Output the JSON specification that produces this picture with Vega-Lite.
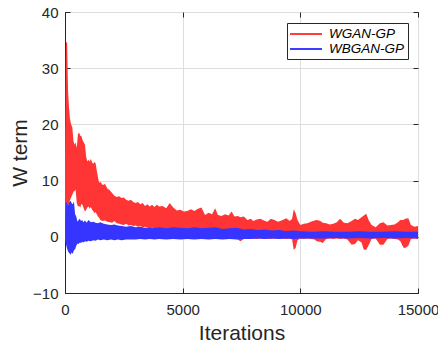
{
  "$schema": "https://vega.github.io/schema/vega-lite/v6.json",
  "width": 353,
  "height": 281,
  "autosize": "none",
  "padding": {"left": 65, "top": 12, "right": 20, "bottom": 50},
  "background": "white",
  "config": {
    "font": "Liberation Sans",
    "view": {"stroke": "#262626", "strokeWidth": 1},
    "axis": {
      "domainColor": "#262626",
      "tickColor": "#262626",
      "labelColor": "#262626",
      "titleColor": "#262626",
      "labelFontSize": 15,
      "titleFontSize": 21,
      "titleFontWeight": "normal",
      "gridColor": "#dedede",
      "gridWidth": 1,
      "tickSize": -5
    }
  },
  "resolve": {"axis": {"x": "independent", "y": "independent"}},
  "datasets": {
    "red": [
      {"it": 0, "lo": 1, "hi": 14},
      {"it": 40, "lo": 3, "hi": 34.7},
      {"it": 90, "lo": 4, "hi": 34.5},
      {"it": 130, "lo": 5, "hi": 26},
      {"it": 170, "lo": 6, "hi": 23},
      {"it": 210, "lo": 6.5, "hi": 21},
      {"it": 260, "lo": 7, "hi": 20},
      {"it": 310, "lo": 7.5, "hi": 19.5},
      {"it": 360, "lo": 8, "hi": 17},
      {"it": 410, "lo": 8.2, "hi": 16.4},
      {"it": 450, "lo": 8.4, "hi": 16.8},
      {"it": 500, "lo": 6, "hi": 15.8},
      {"it": 550, "lo": 5.4, "hi": 18.3},
      {"it": 600, "lo": 5.5, "hi": 18.5},
      {"it": 650, "lo": 5.2, "hi": 18.0},
      {"it": 700, "lo": 5.9, "hi": 17.9},
      {"it": 750, "lo": 5.6, "hi": 17.2},
      {"it": 800, "lo": 5.0, "hi": 16.8},
      {"it": 850, "lo": 4.5, "hi": 16.4},
      {"it": 900, "lo": 4.8, "hi": 14.2},
      {"it": 950, "lo": 5.2, "hi": 13.4},
      {"it": 1000, "lo": 5.4, "hi": 13.7},
      {"it": 1050, "lo": 5.0, "hi": 13.4},
      {"it": 1100, "lo": 5.3, "hi": 13.9},
      {"it": 1150, "lo": 4.8, "hi": 13.2},
      {"it": 1200, "lo": 4.6, "hi": 13.0},
      {"it": 1250, "lo": 4.2, "hi": 13.3},
      {"it": 1300, "lo": 4.4, "hi": 13.1},
      {"it": 1350, "lo": 4.0, "hi": 11.8},
      {"it": 1400, "lo": 3.6, "hi": 10.6},
      {"it": 1450, "lo": 3.4, "hi": 9.6},
      {"it": 1500, "lo": 3.0, "hi": 9.8},
      {"it": 1600, "lo": 2.8, "hi": 9.2},
      {"it": 1700, "lo": 2.9, "hi": 9.4},
      {"it": 1800, "lo": 2.7, "hi": 8.6},
      {"it": 1900, "lo": 2.6, "hi": 8.3},
      {"it": 2000, "lo": 2.5, "hi": 7.8},
      {"it": 2100, "lo": 2.8, "hi": 7.3},
      {"it": 2200, "lo": 2.4, "hi": 7.1},
      {"it": 2300, "lo": 2.3, "hi": 7.2},
      {"it": 2400, "lo": 2.2, "hi": 6.9},
      {"it": 2500, "lo": 2.1, "hi": 7.0},
      {"it": 2600, "lo": 2.3, "hi": 6.6},
      {"it": 2700, "lo": 2.0, "hi": 6.4},
      {"it": 2800, "lo": 2.1, "hi": 6.6},
      {"it": 2900, "lo": 1.9, "hi": 6.2},
      {"it": 3000, "lo": 2.0, "hi": 6.0},
      {"it": 3100, "lo": 1.8, "hi": 6.2},
      {"it": 3200, "lo": 1.9, "hi": 5.8},
      {"it": 3300, "lo": 1.7, "hi": 6.0},
      {"it": 3400, "lo": 1.8, "hi": 5.5},
      {"it": 3500, "lo": 1.7, "hi": 5.8},
      {"it": 3600, "lo": 1.6, "hi": 5.4},
      {"it": 3700, "lo": 1.7, "hi": 5.7},
      {"it": 3800, "lo": 1.5, "hi": 5.3},
      {"it": 3900, "lo": 1.6, "hi": 5.7},
      {"it": 4000, "lo": 1.5, "hi": 5.4},
      {"it": 4150, "lo": 1.4, "hi": 5.5},
      {"it": 4300, "lo": 1.3, "hi": 5.1},
      {"it": 4450, "lo": 1.4, "hi": 6.0},
      {"it": 4600, "lo": 1.2, "hi": 5.2},
      {"it": 4750, "lo": 0.5, "hi": 4.7},
      {"it": 4900, "lo": -0.3, "hi": 4.8},
      {"it": 5050, "lo": -0.4, "hi": 4.5},
      {"it": 5200, "lo": -0.3, "hi": 4.6},
      {"it": 5350, "lo": -0.4, "hi": 4.9},
      {"it": 5500, "lo": -0.3, "hi": 4.6},
      {"it": 5650, "lo": -0.4, "hi": 5.0},
      {"it": 5800, "lo": -0.3, "hi": 5.2},
      {"it": 5950, "lo": -0.4, "hi": 3.9},
      {"it": 6100, "lo": -0.3, "hi": 4.3},
      {"it": 6250, "lo": -0.4, "hi": 4.0},
      {"it": 6380, "lo": -0.3, "hi": 5.1},
      {"it": 6500, "lo": -0.4, "hi": 3.9},
      {"it": 6650, "lo": -0.3, "hi": 3.7},
      {"it": 6800, "lo": -0.4, "hi": 4.0},
      {"it": 6950, "lo": -0.3, "hi": 3.8},
      {"it": 7080, "lo": -0.4, "hi": 4.5},
      {"it": 7200, "lo": -0.3, "hi": 3.6},
      {"it": 7350, "lo": -0.5, "hi": 3.7},
      {"it": 7450, "lo": -0.8, "hi": 3.5},
      {"it": 7600, "lo": -0.4, "hi": 3.6},
      {"it": 7750, "lo": -0.3, "hi": 3.0},
      {"it": 7900, "lo": -0.4, "hi": 3.2},
      {"it": 8000, "lo": -0.3, "hi": 2.8},
      {"it": 8150, "lo": -0.4, "hi": 3.1},
      {"it": 8300, "lo": -0.3, "hi": 3.2},
      {"it": 8450, "lo": -0.4, "hi": 2.9},
      {"it": 8600, "lo": -0.3, "hi": 2.7},
      {"it": 8750, "lo": -0.4, "hi": 3.2},
      {"it": 8900, "lo": -0.3, "hi": 3.0},
      {"it": 9050, "lo": -0.4, "hi": 2.7},
      {"it": 9200, "lo": -0.3, "hi": 2.9},
      {"it": 9400, "lo": -0.4, "hi": 3.3},
      {"it": 9550, "lo": -0.3, "hi": 2.8},
      {"it": 9650, "lo": -0.5, "hi": 3.2},
      {"it": 9720, "lo": -2.3, "hi": 4.9},
      {"it": 9800, "lo": -2.0, "hi": 4.2},
      {"it": 9880, "lo": -0.6, "hi": 3.0},
      {"it": 10000, "lo": -0.3, "hi": 2.1},
      {"it": 10150, "lo": -0.4, "hi": 2.3},
      {"it": 10300, "lo": -0.3, "hi": 2.4},
      {"it": 10450, "lo": -0.4, "hi": 2.7},
      {"it": 10600, "lo": -0.5, "hi": 2.9},
      {"it": 10700, "lo": -0.8, "hi": 3.0},
      {"it": 10850, "lo": -0.9, "hi": 2.8},
      {"it": 10950, "lo": -1.1, "hi": 2.5},
      {"it": 11100, "lo": -0.4, "hi": 2.4},
      {"it": 11250, "lo": -0.3, "hi": 2.2},
      {"it": 11400, "lo": -0.4, "hi": 2.3},
      {"it": 11550, "lo": -0.3, "hi": 2.6},
      {"it": 11690, "lo": -0.4, "hi": 3.2},
      {"it": 11850, "lo": -0.3, "hi": 2.5},
      {"it": 12000, "lo": -0.5, "hi": 2.4},
      {"it": 12180, "lo": -1.4, "hi": 2.8},
      {"it": 12320, "lo": -1.3, "hi": 3.2},
      {"it": 12450, "lo": -0.6, "hi": 3.0},
      {"it": 12600, "lo": -1.0, "hi": 3.5},
      {"it": 12700, "lo": -2.3, "hi": 3.8},
      {"it": 12800, "lo": -2.3, "hi": 4.1},
      {"it": 12900, "lo": -1.5, "hi": 3.0},
      {"it": 13030, "lo": -0.4, "hi": 2.1},
      {"it": 13200, "lo": -0.3, "hi": 1.7},
      {"it": 13380, "lo": -1.4, "hi": 2.4},
      {"it": 13530, "lo": -1.4, "hi": 2.6},
      {"it": 13700, "lo": -0.4, "hi": 2.0},
      {"it": 13850, "lo": -0.3, "hi": 2.1},
      {"it": 14000, "lo": -0.4, "hi": 2.2},
      {"it": 14150, "lo": -0.5, "hi": 2.6},
      {"it": 14250, "lo": -0.8, "hi": 3.0},
      {"it": 14380, "lo": -1.9, "hi": 3.0},
      {"it": 14450, "lo": -2.0, "hi": 3.2},
      {"it": 14590, "lo": -1.6, "hi": 3.3},
      {"it": 14700, "lo": -0.4, "hi": 2.1},
      {"it": 14850, "lo": -0.3, "hi": 1.8},
      {"it": 15000, "lo": -0.4, "hi": 1.9}
    ],
    "blue": [
      {"it": 0, "lo": -0.5, "hi": 2},
      {"it": 30, "lo": -1.1, "hi": 6.3},
      {"it": 80, "lo": -2.0, "hi": 6.0},
      {"it": 130, "lo": -2.6, "hi": 5.5},
      {"it": 180, "lo": -2.9, "hi": 6.2},
      {"it": 230, "lo": -3.2, "hi": 6.4},
      {"it": 280, "lo": -2.8, "hi": 6.0},
      {"it": 330, "lo": -3.0, "hi": 5.8},
      {"it": 380, "lo": -2.4, "hi": 6.3},
      {"it": 430, "lo": -2.2, "hi": 4.0},
      {"it": 480, "lo": -1.6, "hi": 3.6},
      {"it": 530, "lo": -1.2, "hi": 2.7},
      {"it": 580, "lo": -1.3, "hi": 3.0},
      {"it": 630, "lo": -1.0, "hi": 3.2},
      {"it": 680, "lo": -1.1, "hi": 2.8},
      {"it": 730, "lo": -0.9, "hi": 3.0},
      {"it": 780, "lo": -1.0, "hi": 2.6},
      {"it": 850, "lo": -0.8, "hi": 2.9},
      {"it": 920, "lo": -0.9, "hi": 2.5},
      {"it": 1000, "lo": -0.7, "hi": 3.0},
      {"it": 1100, "lo": -0.8, "hi": 2.6},
      {"it": 1200, "lo": -0.6, "hi": 2.7},
      {"it": 1300, "lo": -0.7, "hi": 2.5},
      {"it": 1400, "lo": -0.5, "hi": 2.4},
      {"it": 1500, "lo": -0.6, "hi": 2.6},
      {"it": 1650, "lo": -0.5, "hi": 2.3},
      {"it": 1800, "lo": -0.6, "hi": 2.2},
      {"it": 1950, "lo": -0.5, "hi": 2.1},
      {"it": 2100, "lo": -0.6, "hi": 2.2},
      {"it": 2250, "lo": -0.5, "hi": 2.0},
      {"it": 2400, "lo": -0.6, "hi": 1.9},
      {"it": 2600, "lo": -0.5, "hi": 1.8},
      {"it": 2800, "lo": -0.5, "hi": 1.9},
      {"it": 3000, "lo": -0.5, "hi": 1.7},
      {"it": 3200, "lo": -0.4, "hi": 1.8},
      {"it": 3400, "lo": -0.5, "hi": 1.6},
      {"it": 3600, "lo": -0.4, "hi": 1.7},
      {"it": 3800, "lo": -0.5, "hi": 1.6},
      {"it": 4000, "lo": -0.4, "hi": 1.7},
      {"it": 4300, "lo": -0.5, "hi": 1.5},
      {"it": 4600, "lo": -0.4, "hi": 1.7},
      {"it": 4900, "lo": -0.5, "hi": 1.6},
      {"it": 5200, "lo": -0.4, "hi": 1.5},
      {"it": 5500, "lo": -0.5, "hi": 1.7},
      {"it": 5800, "lo": -0.4, "hi": 1.5},
      {"it": 6100, "lo": -0.5, "hi": 1.6},
      {"it": 6400, "lo": -0.4, "hi": 1.7},
      {"it": 6700, "lo": -0.5, "hi": 1.4},
      {"it": 7000, "lo": -0.4, "hi": 1.5},
      {"it": 7300, "lo": -0.5, "hi": 1.6},
      {"it": 7600, "lo": -0.4, "hi": 1.3},
      {"it": 7900, "lo": -0.4, "hi": 1.4},
      {"it": 8200, "lo": -0.3, "hi": 1.2},
      {"it": 8500, "lo": -0.4, "hi": 1.3},
      {"it": 8800, "lo": -0.3, "hi": 1.1},
      {"it": 9100, "lo": -0.4, "hi": 1.2},
      {"it": 9400, "lo": -0.3, "hi": 1.0},
      {"it": 9700, "lo": -0.4, "hi": 1.1},
      {"it": 10000, "lo": -0.3, "hi": 1.0},
      {"it": 10500, "lo": -0.3, "hi": 0.9},
      {"it": 11000, "lo": -0.3, "hi": 1.0},
      {"it": 11500, "lo": -0.2, "hi": 0.9},
      {"it": 12000, "lo": -0.3, "hi": 0.9},
      {"it": 12500, "lo": -0.2, "hi": 1.0},
      {"it": 13000, "lo": -0.3, "hi": 0.9},
      {"it": 13500, "lo": -0.2, "hi": 0.9},
      {"it": 14000, "lo": -0.3, "hi": 1.0},
      {"it": 14500, "lo": -0.2, "hi": 0.9},
      {"it": 15000, "lo": -0.3, "hi": 0.9}
    ]
  },
  "layer": [
    {
      "data": {"name": "red"},
      "mark": {"type": "area", "opacity": 1, "line": false},
      "encoding": {
        "x": {
          "field": "it",
          "type": "quantitative",
          "scale": {"domain": [0, 15000], "nice": false},
          "axis": {"values": [0, 5000, 10000, 15000], "title": "Iterations", "format": "d", "labelPadding": 14, "titlePadding": 5, "labelFlush": false}
        },
        "y": {
          "field": "lo",
          "type": "quantitative",
          "scale": {"domain": [-10, 40], "nice": false},
          "axis": {"values": [-10, 0, 10, 20, 30, 40], "title": "W term", "labelPadding": 12, "titlePadding": 2}
        },
        "y2": {"field": "hi"},
        "color": {
          "datum": "WGAN-GP",
          "scale": {"domain": ["WGAN-GP", "WBGAN-GP"], "range": ["#ff3535", "#3535ff"]},
          "legend": {
            "title": null,
            "orient": "none",
            "legendX": 222,
            "legendY": 11,
            "symbolType": "M-2,-0.12H2V0.12H-2Z",
            "symbolSize": 256,
            "symbolStrokeWidth": 0,
            "symbolOffset": 8,
            "labelFontStyle": "italic",
            "labelFontSize": 13.5,
            "labelColor": "#000000",
            "strokeColor": "#262626",
            "fillColor": "white",
            "padding": 3,
            "rowPadding": 0,
            "labelOffset": 15
          }
        }
      }
    },
    {
      "data": {"name": "blue"},
      "mark": {"type": "area", "opacity": 1, "line": false},
      "encoding": {
        "x": {
          "field": "it",
          "type": "quantitative",
          "axis": {"orient": "top", "values": [0, 5000, 10000, 15000], "labels": false, "title": null, "grid": false, "domain": false}
        },
        "y": {
          "field": "lo",
          "type": "quantitative",
          "axis": {"orient": "right", "values": [-10, 0, 10, 20, 30, 40], "labels": false, "title": null, "grid": false, "domain": false}
        },
        "y2": {"field": "hi"},
        "color": {"datum": "WBGAN-GP"}
      }
    }
  ]
}
